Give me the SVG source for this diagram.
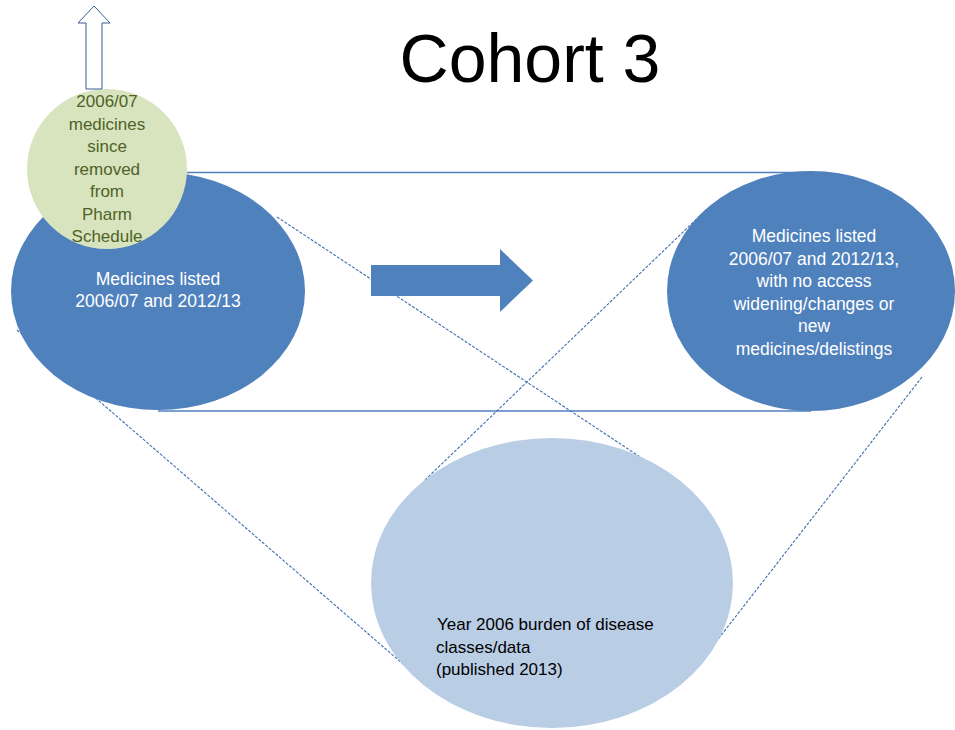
<svg xmlns="http://www.w3.org/2000/svg" width="955" height="730" viewBox="0 0 955 730">
<style>
text{font-family:"Liberation Sans",Arial,sans-serif}
.wt{fill:#ffffff;font-size:17.5px;text-anchor:middle}
.gt{fill:#4F6228;font-size:17px;text-anchor:middle}
.bt{fill:#000000;font-size:17px}
.solid{stroke:#4F81BD;stroke-width:1.5;fill:none}
.dash{stroke:#3E6FB0;stroke-width:1.1;stroke-dasharray:3 1.5;fill:none}
</style>
<rect width="955" height="730" fill="#ffffff"/>
<text x="530" y="82" font-size="68" text-anchor="middle" fill="#000000">Cohort 3</text>
<g id="connectors">
<line class="solid" x1="187" y1="172.5" x2="811" y2="172.5"/>
<line class="solid" x1="158" y1="411" x2="811" y2="411"/>
<line class="dash" x1="277" y1="217" x2="672" y2="478"/>
<line class="dash" x1="425" y1="480" x2="707" y2="209"/>
<line class="dash" x1="17" y1="330" x2="425" y2="683"/>
<line class="dash" x1="922" y1="377" x2="698" y2="665"/>
</g>
<g id="bottom">
<ellipse cx="552" cy="583" rx="181" ry="145" fill="#B9CDE5"/>
<text class="bt" x="437" y="630"> Year 2006 burden of disease</text>
<text class="bt" x="436" y="653">classes/data</text>
<text class="bt" x="436" y="675">(published 2013)</text>
</g>
<g id="left">
<ellipse cx="158" cy="291" rx="147" ry="119" fill="#4F81BD"/>
<text class="wt" x="158" y="285">Medicines listed</text>
<text class="wt" x="158" y="307">2006/07 and 2012/13</text>
</g>
<g id="right">
<ellipse cx="811" cy="291" rx="144" ry="120" fill="#4F81BD"/>
<text class="wt" x="814" y="242">Medicines listed</text>
<text class="wt" x="814" y="265">2006/07 and 2012/13,</text>
<text class="wt" x="814" y="287">with no access</text>
<text class="wt" x="814" y="310">widening/changes or</text>
<text class="wt" x="814" y="332">new</text>
<text class="wt" x="814" y="355">medicines/delistings</text>
</g>
<g id="green">
<circle cx="107" cy="169" r="80" fill="#D7E4BD"/>
<text class="gt" x="107" y="107">2006/07</text>
<text class="gt" x="107" y="130">medicines</text>
<text class="gt" x="107" y="152">since</text>
<text class="gt" x="107" y="175">removed</text>
<text class="gt" x="107" y="197">from</text>
<text class="gt" x="107" y="220">Pharm</text>
<text class="gt" x="107" y="242">Schedule</text>
</g>
<g id="up-arrow">
<polygon points="86,89 86,23 78,23 94,6 110,23 102,23 102,89" fill="#ffffff" stroke="#385D8A" stroke-width="1"/>
</g>
<g id="right-arrow">
<polygon points="371,265 500,265 500,249 533,280.5 500,312 500,296 371,296" fill="#4F81BD"/>
</g>
</svg>
